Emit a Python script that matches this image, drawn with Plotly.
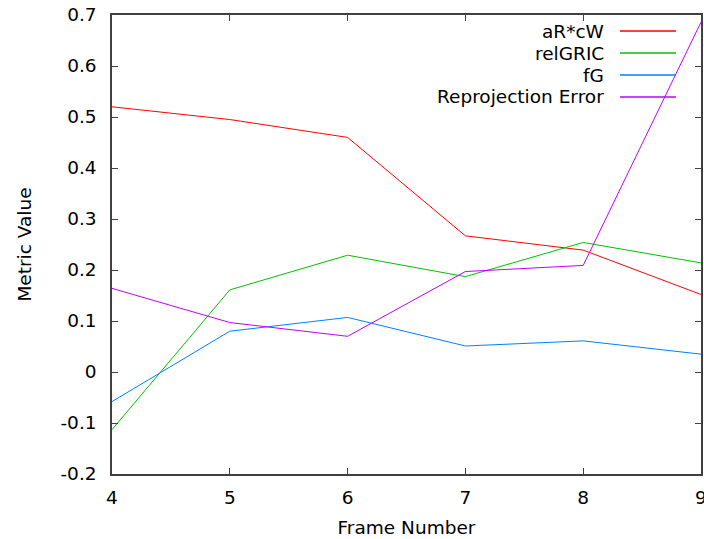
import plotly.graph_objects as go

frames = [4, 5, 6, 7, 8, 9]
series_names = ["aR*cW", "relGRIC", "fG", "Reprojection Error"]
ar_cw = [0.520, 0.495, 0.460, 0.267, 0.239, 0.152]
rel_gric = [-0.113, 0.161, 0.229, 0.187, 0.254, 0.214]
f_g = [-0.058, 0.080, 0.107, 0.051, 0.061, 0.035]
reproj_err = [0.164, 0.097, 0.070, 0.197, 0.209, 0.686]
series_values = [ar_cw, rel_gric, f_g, reproj_err]
colors = ["#ff0000", "#00c000", "#0080ff", "#c000ff"]
y_ticks = [-0.2, -0.1, 0, 0.1, 0.2, 0.3, 0.4, 0.5, 0.6, 0.7]
y_tick_labels = ["-0.2", "-0.1", "0", "0.1", "0.2", "0.3", "0.4", "0.5", "0.6", "0.7"]

FONT = "DejaVu Sans"
FS = 18.5

fig = go.Figure()
for name, vals, col in zip(series_names, series_values, colors):
    fig.add_trace(go.Scatter(x=frames, y=vals, mode="lines", name=name,
                             line=dict(color=col, width=1), showlegend=False))

# gnuplot-style legend: right-aligned text, then line sample
W, H = 704, 539
ml, mr, mt, mb = 112, 3, 15, 65
pw, ph = W - ml - mr, H - mt - mb
def px_to_paper_x(px):
    return (px - ml) / pw
def py_to_paper_y(py):
    return 1 - (py - mt) / ph
for i, (name, col) in enumerate(zip(series_names, colors)):
    yy = py_to_paper_y(31 + 22 * i)
    fig.add_annotation(x=px_to_paper_x(606), y=yy, xref="paper", yref="paper",
                       text=name, showarrow=False, xanchor="right", yanchor="middle",
                       font=dict(family=FONT, size=FS, color="#000000"))
    fig.add_shape(type="line", xref="paper", yref="paper",
                  x0=px_to_paper_x(620), x1=px_to_paper_x(676), y0=yy, y1=yy,
                  line=dict(color=col, width=1.5))

axis_common = dict(showgrid=False, zeroline=False, showline=True, linecolor="#404040",
                   linewidth=1.5, mirror="allticks", ticks="inside", ticklen=6,
                   tickcolor="#404040", tickwidth=1, automargin=False,
                   ticklabeloverflow="allow",
                   tickfont=dict(family=FONT, size=FS, color="#000000"))

fig.update_layout(
    width=W, height=H,
    margin=dict(l=ml, r=mr, t=mt, b=mb),
    paper_bgcolor="white", plot_bgcolor="white",
    font=dict(family=FONT, size=FS, color="#000000"),
    xaxis=dict(range=[4, 9], tickvals=frames, ticktext=[str(f) for f in frames],
               ticklabelstandoff=6,
               title=dict(text="Frame Number", standoff=14,
                          font=dict(family=FONT, size=FS)),
               **axis_common),
    yaxis=dict(range=[-0.2, 0.7], tickvals=y_ticks, ticktext=y_tick_labels,
               ticklabelstandoff=10,
               title=dict(text="Metric Value", standoff=24,
                          font=dict(family=FONT, size=FS)),
               **axis_common),
)
fig.write_html("out.html", config={"displayModeBar": False},
               post_script="document.body.style.margin='0';document.body.style.overflow='hidden';")
